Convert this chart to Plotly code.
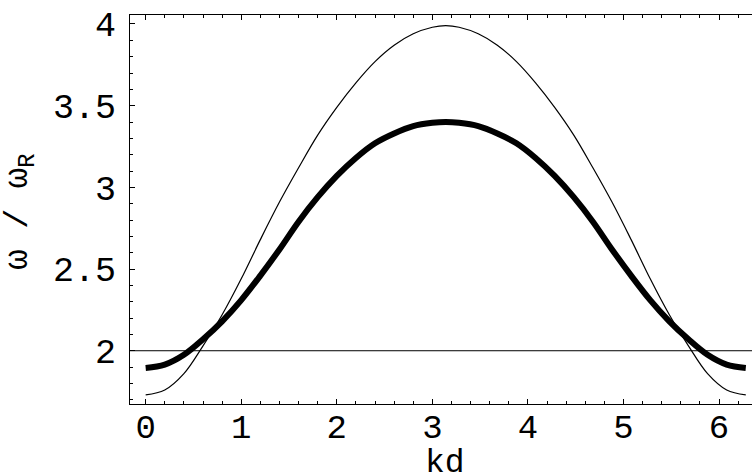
import plotly.graph_objects as go

# valores (curvas simétricas em torno de kd = pi)
KD = [0.0, 0.2, 0.4, 0.6, 0.8, 1.0, 1.2, 1.4, 1.6, 1.8, 2.0, 2.2, 2.4, 2.6, 2.8, 3.0, 3.14,
      3.28, 3.48, 3.68, 3.88, 4.08, 4.28, 4.48, 4.68, 4.88, 5.08, 5.28, 5.48, 5.68, 5.88, 6.08, 6.28]

OMEGA_FINA = [1.73, 1.76, 1.86, 2.03, 2.22, 2.44, 2.68, 2.91, 3.12, 3.32, 3.49, 3.64, 3.77, 3.87, 3.94, 3.98, 3.99,
              3.98, 3.94, 3.87, 3.77, 3.64, 3.49, 3.32, 3.12, 2.91, 2.68, 2.44, 2.22, 2.03, 1.86, 1.76, 1.73]

OMEGA_GROSSA = [1.895, 1.915, 1.975, 2.07, 2.18, 2.31, 2.46, 2.62, 2.79, 2.94, 3.07, 3.18, 3.27, 3.33, 3.375, 3.395, 3.40,
                3.395, 3.375, 3.33, 3.27, 3.18, 3.07, 2.94, 2.79, 2.62, 2.46, 2.31, 2.18, 2.07, 1.975, 1.915, 1.895]

NIVEL_REFERENCIA = 2.0

X_TICKS = [0, 1, 2, 3, 4, 5, 6]
Y_TICKS = [2, 2.5, 3, 3.5, 4]
Y_TICK_TEXT = ['2', '2.5', '3', '3.5', '4']

FONTE = 'Liberation Mono, DejaVu Sans Mono, monospace'

fig = go.Figure()

fig.add_trace(go.Scatter(
    x=KD, y=OMEGA_FINA, mode='lines', line=dict(color='black', width=1.2, shape='spline'),
    showlegend=False,
))
fig.add_trace(go.Scatter(
    x=KD, y=OMEGA_GROSSA, mode='lines', line=dict(color='black', width=6, shape='spline'),
    showlegend=False,
))

fig.add_hline(y=NIVEL_REFERENCIA, line=dict(color='black', width=1), layer='below')

fig.update_xaxes(
    range=[-0.164, 6.345],
    tickvals=X_TICKS,
    ticks='inside', ticklen=5, tickcolor='black', tickwidth=1,
    minor=dict(dtick=0.2, ticks='inside', ticklen=3, tickcolor='black'),
    showline=True, linecolor='black', linewidth=1, mirror='allticks',
    showgrid=False, zeroline=False, automargin=False,
    tickfont=dict(family=FONTE, size=34, color='black'),
    ticklabelstandoff=-8,
)
fig.update_yaxes(
    range=[1.674, 4.055],
    tickvals=Y_TICKS, ticktext=Y_TICK_TEXT,
    ticks='inside', ticklen=5, tickcolor='black', tickwidth=1,
    minor=dict(dtick=0.1, ticks='inside', ticklen=3, tickcolor='black'),
    showline=True, linecolor='black', linewidth=1,
    showgrid=False, zeroline=False, automargin=False,
    tickfont=dict(family=FONTE, size=35, color='black'),
    ticklabelstandoff=6,
)

# títulos dos eixos como anotações, pra posicionar igual ao original
fig.add_annotation(
    text='kd', xref='paper', yref='paper', x=0.506, y=-0.152,
    xanchor='center', yanchor='middle', showarrow=False,
    font=dict(family=FONTE, size=33, color='black'),
)
fig.add_annotation(
    text='ω / ω<sub>R</sub>', xref='paper', yref='paper', x=-0.177, y=0.494,
    xanchor='center', yanchor='middle', showarrow=False, textangle=-90,
    font=dict(family=FONTE, size=34, color='black'),
)

fig.update_layout(
    width=752, height=474,
    paper_bgcolor='white', plot_bgcolor='white',
    margin=dict(l=130, r=0, t=15, b=70),
)

# a página padrão tem margem de 8px no body; zera pra figura ocupar a janela toda
fig.write_html('out.html', config={'displayModeBar': False},
               post_script="document.body.style.margin='0';")
